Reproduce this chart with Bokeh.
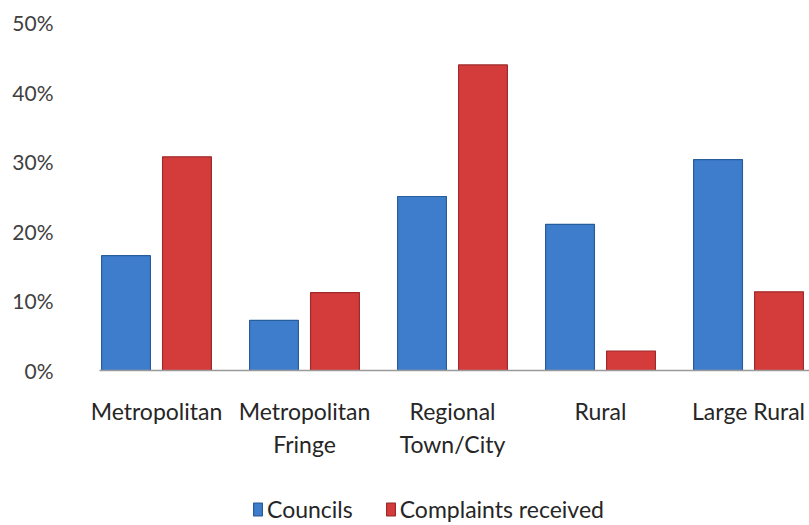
import numpy as np
from bokeh.plotting import figure
from bokeh.layouts import column
from bokeh.models import Range1d, FixedTicker, NumeralTickFormatter, Legend, LegendItem
from bokeh.embed import file_html
from bokeh.resources import INLINE

categories = ["Metropolitan", "Metropolitan\nFringe", "Regional\nTown/City", "Rural", "Large Rural"]
series_names = ["Councils", "Complaints received"]
councils = [0.165, 0.072, 0.250, 0.210, 0.303]
complaints = [0.307, 0.112, 0.439, 0.028, 0.113]
y_ticks = [0.0, 0.1, 0.2, 0.3, 0.4, 0.5]

FONT = "Lato"
BLUE, BLUE_EDGE = "#3e7dcb", "#285d9c"
RED, RED_EDGE = "#d43c3c", "#9e2a2a"
x = np.arange(len(categories))

p = figure(width=809, height=475, output_backend="svg", toolbar_location=None,
           x_range=Range1d(-0.385, 4.412), y_range=Range1d(0, 0.5),
           min_border_left=99, min_border_right=0, min_border_top=22, min_border_bottom=105)
p.outline_line_color = None
p.background_fill_color = "white"
p.border_fill_color = "white"
p.grid.visible = False

p.vbar(x=x - 0.206, top=councils, width=0.33, bottom=0,
       fill_color=BLUE, line_color=BLUE_EDGE, line_width=1.2)
p.vbar(x=x + 0.206, top=complaints, width=0.33, bottom=0,
       fill_color=RED, line_color=RED_EDGE, line_width=1.2)

p.yaxis.ticker = FixedTicker(ticks=y_ticks)
p.yaxis.formatter = NumeralTickFormatter(format="0%")
p.yaxis.axis_line_color = None
p.yaxis.major_tick_line_color = None
p.yaxis.minor_tick_line_color = None
p.yaxis.major_label_standoff = 40
p.yaxis.major_label_text_font = FONT
p.yaxis.major_label_text_font_size = "21px"
p.yaxis.major_label_text_color = "#404040"

p.xaxis.ticker = FixedTicker(ticks=list(range(len(categories))))
p.xaxis.major_label_overrides = {i: c for i, c in enumerate(categories)}
p.xaxis.axis_line_color = "#9a9a9a"
p.xaxis.axis_line_width = 1.5
p.xaxis.major_tick_line_color = None
p.xaxis.minor_tick_line_color = None
p.xaxis.major_label_standoff = 20
p.xaxis.major_label_text_font = FONT
p.xaxis.major_label_text_font_size = "23px"
p.xaxis.major_label_text_color = "#262626"
p.xaxis.major_label_text_line_height = 1.2

# legend strip below the chart (its bars are the same data, kept outside the strip's view)
lg = figure(width=809, height=50, output_backend="svg", toolbar_location=None,
            x_range=Range1d(-0.385, 4.412), y_range=Range1d(10, 11),
            x_axis_location=None, y_axis_location=None,
            min_border_left=99, min_border_right=0, min_border_top=0, min_border_bottom=0)
lg.outline_line_color = None
lg.grid.visible = False
lr1 = lg.vbar(x=x - 0.206, top=councils, bottom=0, width=0.33,
              fill_color=BLUE, line_color=BLUE_EDGE, line_width=1.2)
lr2 = lg.vbar(x=x + 0.206, top=complaints, bottom=0, width=0.33,
              fill_color=RED, line_color=RED_EDGE, line_width=1.2)
legend = Legend(items=[LegendItem(label=series_names[0], renderers=[lr1]),
                       LegendItem(label=series_names[1], renderers=[lr2])],
                location=(153, 2), orientation="horizontal",
                border_line_color=None, background_fill_alpha=0,
                margin=0, padding=0, spacing=32,
                glyph_width=11, glyph_height=16, label_standoff=4,
                label_text_font=FONT, label_text_font_size="23px",
                label_text_color="#262626")
lg.add_layout(legend, "center")

layout = column(p, lg, spacing=0)
open("out.html", "w").write(file_html(layout, INLINE))
